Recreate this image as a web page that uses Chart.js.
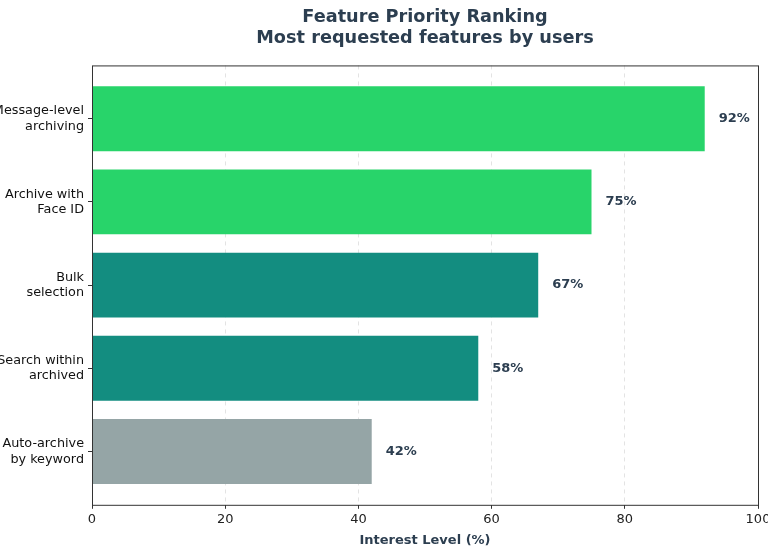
<!DOCTYPE html>
<html>
<head>
<meta charset="utf-8">
<script src="https://cdn.jsdelivr.net/npm/chart.js@4/dist/chart.umd.min.js"></script>
<style>
	html, body { margin: 0; padding: 0; background: #fff; }
	#wrap { width: 768px; height: 551px; }
</style>
</head>
<body>
<div id="wrap"><canvas id="prioridad-grafica"></canvas></div>
<script>
const categorias = [
	["Message-level", "archiving"],
	["Archive with", "Face ID"],
	["Bulk", "selection"],
	["Search within", "archived"],
	["Auto-archive", "by keyword"],
];
const interes = [92, 75, 67, 58, 42];
const colores = ["#28d46a", "#28d46a", "#138d80", "#138d80", "#95a5a6"];
const ticksX = [0, 20, 40, 60, 80, 100];

(function () {
	const ctx = document.getElementById("prioridad-grafica");
	const texto = "#2c3e50";
	Chart.defaults.font.family = "'DejaVu Sans', sans-serif";
	Chart.defaults.color = "#222";

	// marco del área y etiquetas de valor
	const extras = {
		id: "extras",
		afterDatasetsDraw(chart) {
			const c = chart.ctx;
			const a = chart.chartArea;
			const meta = chart.getDatasetMeta(0);
			c.save();
			c.font = "bold 13px 'DejaVu Sans'";
			c.fillStyle = texto;
			c.textAlign = "left";
			c.textBaseline = "middle";
			meta.data.forEach((bar, i) => {
				c.fillText(interes[i] + "%", bar.x + 14, bar.y);
			});
			c.strokeStyle = "#333";
			c.lineWidth = 1;
			c.strokeRect(a.left + 0.5, a.top + 0.5, a.right - a.left, a.bottom - a.top);
			c.restore();
		},
	};

	// posiciones de categoría como índice numérico (margen como en el original)
	const puntos = interes.map((v, i) => ({ x: v, y: i }));

	new Chart(ctx, {
		type: "bar",
		data: {
			datasets: [
				{
					data: puntos,
					backgroundColor: colores,
					borderWidth: 0,
					barPercentage: 0.78,
					categoryPercentage: 1,
				},
			],
		},
		options: {
			indexAxis: "y",
			responsive: true,
			maintainAspectRatio: false,
			animation: false,
			layout: { padding: { top: 4, right: 10, bottom: 3, left: 0 } },
			scales: {
				x: {
					type: "linear",
					min: 0,
					max: 100,
					afterBuildTicks: (s) => { s.ticks = ticksX.map((v) => ({ value: v })); },
					afterFit: (s) => { s.paddingRight = 0; s.paddingLeft = 0; },
					grid: {
						color: "#e3e3e3",
						lineWidth: 1,
						tickColor: "#333",
						tickLength: 4,
						drawTicks: true,
					},
					border: { display: false, dash: [4, 4] },
					ticks: { font: { size: 13 }, color: "#222", padding: 3 },
					title: {
						display: true,
						text: "Interest Level (%)",
						color: texto,
						font: { size: 13, weight: "bold" },
						padding: { top: 2, bottom: 0 },
					},
				},
				y: {
					type: "linear",
					reverse: true,
					offset: false,
					min: -0.64,
					max: 4.64,
					afterBuildTicks: (s) => { s.ticks = categorias.map((_, i) => ({ value: i })); },
					afterFit: (s) => { s.width = 92; },
					grid: { display: true, offset: false, drawOnChartArea: false, drawTicks: true, tickLength: 4, tickColor: "#333" },
					border: { display: false },
					ticks: {
						font: { size: 12.8 },
						color: "#111",
						padding: 4,
						callback: (v) => categorias[v],
					},
				},
			},
			plugins: {
				legend: { display: false },
				tooltip: { enabled: false },
				title: {
					display: true,
					fullSize: false,
					text: ["Feature Priority Ranking", "Most requested features by users"],
					color: texto,
					font: { size: 17.7, weight: "bold", lineHeight: 1.17 },
					padding: { top: 3, bottom: 17 },
				},
			},
		},
		plugins: [extras],
	});
})();
</script>
</body>
</html>
